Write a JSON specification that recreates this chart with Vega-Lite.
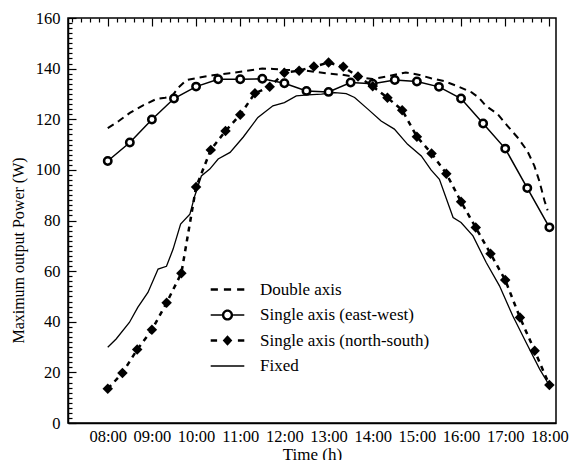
{
  "$schema": "https://vega.github.io/schema/vega-lite/v6.json",
  "autosize": {"type": "none"},
  "padding": {"left": 68, "top": 18, "right": 14, "bottom": 37},
  "width": 488,
  "height": 405,
  "config": {
    "font": "Liberation Serif",
    "view": {"stroke": "black", "strokeWidth": 1.5},
    "axis": {"domainColor": "black", "domainWidth": 1.5, "labelColor": "black", "titleColor": "black", "titleFontWeight": "normal"}
  },
  "datasets": {
    "ew": [
      {"h": 8, "v": 103.5}, {"h": 8.5, "v": 110.8}, {"h": 9, "v": 119.9}, {"h": 9.5, "v": 128.2},
      {"h": 10, "v": 132.9}, {"h": 10.5, "v": 135.8}, {"h": 11, "v": 135.8}, {"h": 11.5, "v": 136},
      {"h": 12, "v": 134.2}, {"h": 12.5, "v": 131.2}, {"h": 13, "v": 130.8}, {"h": 13.5, "v": 134.5},
      {"h": 14, "v": 134}, {"h": 14.5, "v": 135.5}, {"h": 15, "v": 134.9}, {"h": 15.5, "v": 132.8},
      {"h": 16, "v": 128.2}, {"h": 16.5, "v": 118.3}, {"h": 17, "v": 108.4}, {"h": 17.5, "v": 92.8},
      {"h": 18, "v": 77.3}
    ],
    "ns": [
      {"h": 8, "v": 13.5}, {"h": 8.333, "v": 19.8}, {"h": 8.667, "v": 29}, {"h": 9, "v": 36.8},
      {"h": 9.333, "v": 47.5}, {"h": 9.667, "v": 59.2}, {"h": 10, "v": 93.2}, {"h": 10.333, "v": 107.9},
      {"h": 10.667, "v": 115.4}, {"h": 11, "v": 121.8}, {"h": 11.333, "v": 130.3}, {"h": 11.667, "v": 132.8},
      {"h": 12, "v": 138.4}, {"h": 12.333, "v": 139.2}, {"h": 12.667, "v": 140.8}, {"h": 13, "v": 142.4},
      {"h": 13.333, "v": 140.7}, {"h": 13.667, "v": 136.9}, {"h": 14, "v": 133}, {"h": 14.333, "v": 128.5},
      {"h": 14.667, "v": 123.6}, {"h": 15, "v": 113.1}, {"h": 15.333, "v": 106.5}, {"h": 15.667, "v": 98.5},
      {"h": 16, "v": 87.4}, {"h": 16.333, "v": 77.2}, {"h": 16.667, "v": 66.9}, {"h": 17, "v": 56.5},
      {"h": 17.333, "v": 41.7}, {"h": 17.667, "v": 28.5}, {"h": 18, "v": 15}
    ],
    "dbl": [
      {"h": 8, "v": 116.5}, {"h": 8.25, "v": 119.3}, {"h": 8.5, "v": 122.5}, {"h": 8.8, "v": 125.5},
      {"h": 9.1, "v": 128}, {"h": 9.3, "v": 128.5}, {"h": 9.45, "v": 129}, {"h": 9.6, "v": 132.5},
      {"h": 9.78, "v": 135.5}, {"h": 10.08, "v": 136.5}, {"h": 10.38, "v": 137.4}, {"h": 10.76, "v": 138.2},
      {"h": 11.14, "v": 139.1}, {"h": 11.5, "v": 140}, {"h": 11.75, "v": 139.9}, {"h": 12, "v": 139.6},
      {"h": 12.5, "v": 139.2}, {"h": 13, "v": 138}, {"h": 13.3, "v": 137.6}, {"h": 13.7, "v": 136.5},
      {"h": 14, "v": 135.9}, {"h": 14.3, "v": 136.8}, {"h": 14.75, "v": 138.5}, {"h": 15.06, "v": 137.5},
      {"h": 15.32, "v": 136.2}, {"h": 15.61, "v": 135.1}, {"h": 15.9, "v": 133.2}, {"h": 16.24, "v": 130.6},
      {"h": 16.4, "v": 128.6}, {"h": 16.56, "v": 125.3}, {"h": 16.83, "v": 122}, {"h": 17.05, "v": 117.4},
      {"h": 17.28, "v": 112.8}, {"h": 17.5, "v": 107.5}, {"h": 17.66, "v": 101.6}, {"h": 17.77, "v": 95.7},
      {"h": 17.89, "v": 87.8}, {"h": 17.96, "v": 84}
    ],
    "fixed": [
      {"h": 8, "v": 29.9}, {"h": 8.19, "v": 33.2}, {"h": 8.49, "v": 39.7}, {"h": 8.68, "v": 45.7},
      {"h": 8.91, "v": 51.6}, {"h": 9.14, "v": 60.8}, {"h": 9.33, "v": 61.9}, {"h": 9.48, "v": 68.7},
      {"h": 9.65, "v": 78.6}, {"h": 9.86, "v": 82.5}, {"h": 9.97, "v": 89.7}, {"h": 10.12, "v": 97.6},
      {"h": 10.31, "v": 100.3}, {"h": 10.5, "v": 104.3}, {"h": 10.77, "v": 106.9}, {"h": 11.07, "v": 113},
      {"h": 11.4, "v": 120.7}, {"h": 11.74, "v": 125.3}, {"h": 12, "v": 126.6}, {"h": 12.27, "v": 129.2},
      {"h": 12.53, "v": 129.6}, {"h": 12.84, "v": 129.9}, {"h": 13.14, "v": 130.5}, {"h": 13.4, "v": 130.1},
      {"h": 13.59, "v": 128.6}, {"h": 13.89, "v": 124}, {"h": 14.19, "v": 119.3}, {"h": 14.49, "v": 116.1},
      {"h": 14.79, "v": 110.1}, {"h": 15.1, "v": 105.5}, {"h": 15.32, "v": 100}, {"h": 15.51, "v": 96.3},
      {"h": 15.82, "v": 81.2}, {"h": 16, "v": 79.2}, {"h": 16.27, "v": 73.9}, {"h": 16.57, "v": 63.4},
      {"h": 16.87, "v": 54.2}, {"h": 17.17, "v": 42.4}, {"h": 17.47, "v": 31.9}, {"h": 17.78, "v": 21.3},
      {"h": 17.96, "v": 16}
    ],
    "names": [
      {"s": "Double axis"}, {"s": "Single axis (east-west)"}, {"s": "Single axis (north-south)"}, {"s": "Fixed"}
    ]
  },
  "encoding": {
    "x": {
      "field": "h", "type": "quantitative",
      "scale": {"domain": [7.1, 18.15], "nice": false, "zero": false},
      "axis": {
        "orient": "bottom",
        "title": "Time (h)",
        "tickCount": 55,
        "labelExpr": "datum.value % 1 === 0 ? (datum.value < 10 ? '0' : '') + datum.value + ':00' : ''",
        "ticks": false,
        "grid": true, "gridColor": "black", "gridOpacity": 1, "gridWidth": 1.2,
        "gridDash": {"condition": {"test": "datum.value % 1 === 0", "value": [8, 1000]}, "value": [4, 1000]},
        "labelOverlap": false, "labelFlush": false, "labelPadding": 5,
        "labelFontSize": 16.5, "titleFontSize": 17,
        "titleY": 23, "titleBaseline": "top"
      }
    },
    "y": {
      "field": "v", "type": "quantitative",
      "scale": {"domain": [0, 160], "nice": false},
      "axis": {
        "orient": "left",
        "title": "Maximum output Power (W)",
        "tickCount": 80,
        "labelExpr": "datum.value % 20 === 0 ? datum.value + '' : ''",
        "ticks": false,
        "grid": true, "gridColor": "black", "gridOpacity": 1, "gridWidth": 1.2,
        "gridDash": {"condition": {"test": "datum.value % 20 === 0", "value": [8, 1000]}, "value": [4, 1000]},
        "labelOverlap": false, "labelFlush": false, "labelPadding": 8,
        "labelFontSize": 16.5, "titleFontSize": 16,
        "titleX": -50, "titleY": 232, "titleAlign": "center", "titleBaseline": "middle", "titleAngle": -90
      }
    }
  },
  "layer": [
    {"data": {"name": "fixed"}, "mark": {"type": "line", "color": "black", "strokeWidth": 1.3}},
    {"data": {"name": "dbl"}, "mark": {"type": "line", "color": "black", "strokeWidth": 2, "strokeDash": [7, 5]}},
    {"data": {"name": "ns"}, "mark": {"type": "line", "color": "black", "strokeWidth": 2.5, "strokeDash": [5, 5]}},
    {"data": {"name": "ew"}, "mark": {"type": "line", "color": "black", "strokeWidth": 1.5}},
    {"data": {"name": "ew"}, "mark": {"type": "point", "shape": "circle", "size": 55, "filled": true, "fill": "white", "stroke": "black", "strokeWidth": 2.5, "opacity": 1}},
    {"data": {"name": "ns"}, "mark": {"type": "point", "shape": "diamond", "size": 110, "filled": true, "color": "black", "opacity": 1}},
    {
      "data": {"name": "names"},
      "transform": [{"filter": "false"}],
      "mark": {"type": "point", "filled": true, "color": "black", "opacity": 1},
      "encoding": {
        "shape": {
          "field": "s", "type": "nominal",
          "scale": {
            "domain": ["Double axis", "Single axis (east-west)", "Single axis (north-south)", "Fixed"],
            "range": [
              "M-2.1,-0.15H-1.2V0.15H-2.1ZM-0.45,-0.15H0.45V0.15H-0.45ZM1.2,-0.15H2.1V0.15H1.2Z",
              "M-2.1,-0.1H-0.7V0.1H-2.1ZM0.7,-0.1H2.1V0.1H0.7ZM0.7,0A0.7,0.7 0 1 0 -0.7,0A0.7,0.7 0 1 0 0.7,0ZM0.4,0A0.4,0.4 0 1 1 -0.4,0A0.4,0.4 0 1 1 0.4,0Z",
              "M-2.1,-0.15H-1.3V0.15H-2.1ZM-0.6,0L0,-0.65L0.6,0L0,0.65ZM1.3,-0.15H2.1V0.15H1.3Z",
              "M-2.1,-0.1H2.1V0.1H-2.1Z"
            ]
          },
          "legend": {
            "title": null, "orient": "none", "legendX": 151, "legendY": 263, "padding": 0,
            "symbolSize": 256, "symbolFillColor": "black", "symbolStrokeColor": "black", "symbolStrokeWidth": 0, "symbolOpacity": 1,
            "labelFontSize": 17, "labelColor": "black", "labelLimit": 0, "labelOffset": 24, "rowPadding": 7.5
          }
        }
      }
    }
  ]
}
